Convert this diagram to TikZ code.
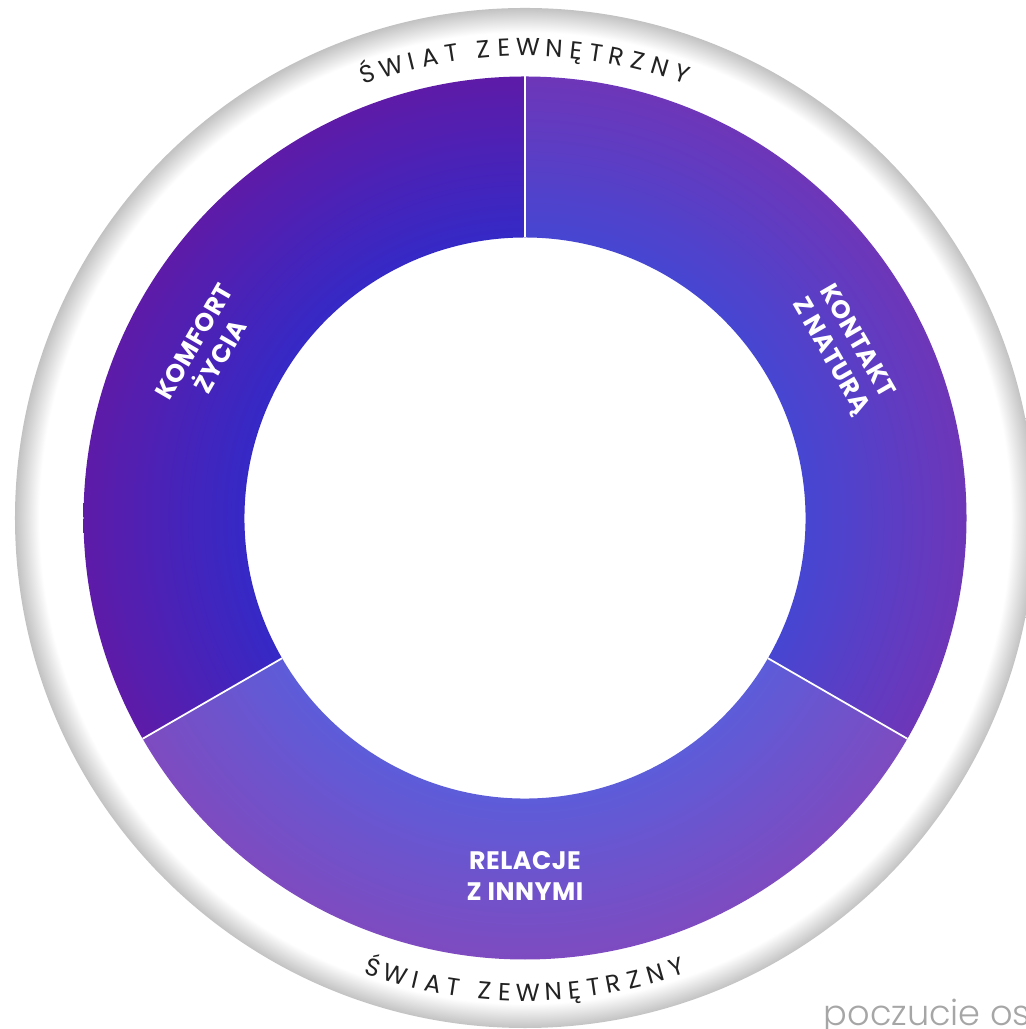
\documentclass[tikz,border=0pt]{standalone}
\usepackage{fontspec}
\setmainfont{Poppins}
\newfontfamily\ringfont{Poppins}
\newfontfamily\labelfont[LetterSpace=2]{Poppins}
\newfontfamily\thinfont{Poppins Light}
\definecolor{komfin}{HTML}{3529C6}
\definecolor{komfout}{HTML}{5E1BA8}
\definecolor{natin}{HTML}{4646D2}
\definecolor{natout}{HTML}{6E36B8}
\definecolor{relin}{HTML}{5D5CD9}
\definecolor{relout}{HTML}{7E4BC0}
\definecolor{rimgray}{HTML}{C2C2C2}
\definecolor{ringtext}{HTML}{222222}
\definecolor{notegray}{HTML}{A6A6A6}
\newcommand{\RimR}{5.10}
\newcommand{\RingOut}{4.415}
\newcommand{\RingIn}{2.805}
\pgfdeclareradialshading{rimshade}{\pgfpointorigin}{color(0bp)=(white); color(23.8bp)=(white); color(25bp)=(rimgray); color(50bp)=(rimgray)}
\pgfdeclareradialshading{komfshade}{\pgfpointorigin}{color(0bp)=(komfin); color(15.9bp)=(komfin); color(25bp)=(komfout); color(50bp)=(komfout)}
\pgfdeclareradialshading{natshade}{\pgfpointorigin}{color(0bp)=(natin); color(15.9bp)=(natin); color(25bp)=(natout); color(50bp)=(natout)}
\pgfdeclareradialshading{relshade}{\pgfpointorigin}{color(0bp)=(relin); color(15.9bp)=(relin); color(25bp)=(relout); color(50bp)=(relout)}

\begin{document}
\begin{tikzpicture}[every node/.style={align=center},
    sector/.style={text=white, font=\labelfont\bfseries\fontsize{7.2}{8.6}\selectfont},
    ringchar/.style={text=ringtext, inner sep=0pt, anchor=base, font=\ringfont\fontsize{7}{8}\selectfont}]
  \useasboundingbox (-5.25,-5.11) rectangle (5.00,5.18);

  % outer disk
  \shade[shading=rimshade] (0,0) circle (\RimR);

  \begin{scope}
    \clip (90:\RingOut) arc (90:210:\RingOut) -- (210:\RingIn) arc (210:90:\RingIn) -- cycle;
    \shade[shading=komfshade] (0,0) circle (\RingOut);
  \end{scope}
  \begin{scope}
    \clip (90:\RingOut) arc (90:-30:\RingOut) -- (-30:\RingIn) arc (-30:90:\RingIn) -- cycle;
    \shade[shading=natshade] (0,0) circle (\RingOut);
  \end{scope}
  \begin{scope}
    \clip (210:\RingOut) arc (210:330:\RingOut) -- (330:\RingIn) arc (330:210:\RingIn) -- cycle;
    \shade[shading=relshade] (0,0) circle (\RingOut);
  \end{scope}

  \draw[white, line width=0.5pt] (90:\RingIn) -- (90:\RingOut);
  \draw[white, line width=0.5pt] (210:\RingIn) -- (210:\RingOut);
  \draw[white, line width=0.5pt] (330:\RingIn) -- (330:\RingOut);

  \node[sector, rotate=60] (komfort) at (152:3.60) {KOMFORT\\ŻYCIA};
  \node[sector, rotate=-60] (natura) at (28:3.60) {KONTAKT\\Z NATURĄ};
  \node[sector] (relacje) at (270:3.58) {RELACJE\\Z INNYMI};

  % letters round the rim
  \foreach \ch/\a [count=\i] in {Ś/109.51, W/106.50, I/103.94, A/101.69, T/99.02,
      Z/95.11, E/92.59, W/89.64, N/86.45, Ę/83.78, T/81.32, R/78.75, Z/76.12, N/73.36, Y/70.55}
    \node[ringchar, rotate=\a-90] (top\i) at (\a:4.62) {\ch};
  \foreach \ch/\a [count=\i] in {Ś/251.31, W/254.20, I/256.65, A/258.81, T/261.36,
      Z/265.11, E/267.52, W/270.34, N/273.40, Ę/275.96, T/278.32, R/280.78, Z/283.29, N/285.94, Y/288.63}
    \node[ringchar, rotate=\a+90] (bot\i) at (\a:4.83) {\ch};

  \node[anchor=base west, inner sep=0pt, text=notegray, font=\thinfont\fontsize{10}{12}\selectfont] (note) at (2.98,-5.07) {poczucie os};
\end{tikzpicture}
\end{document}
